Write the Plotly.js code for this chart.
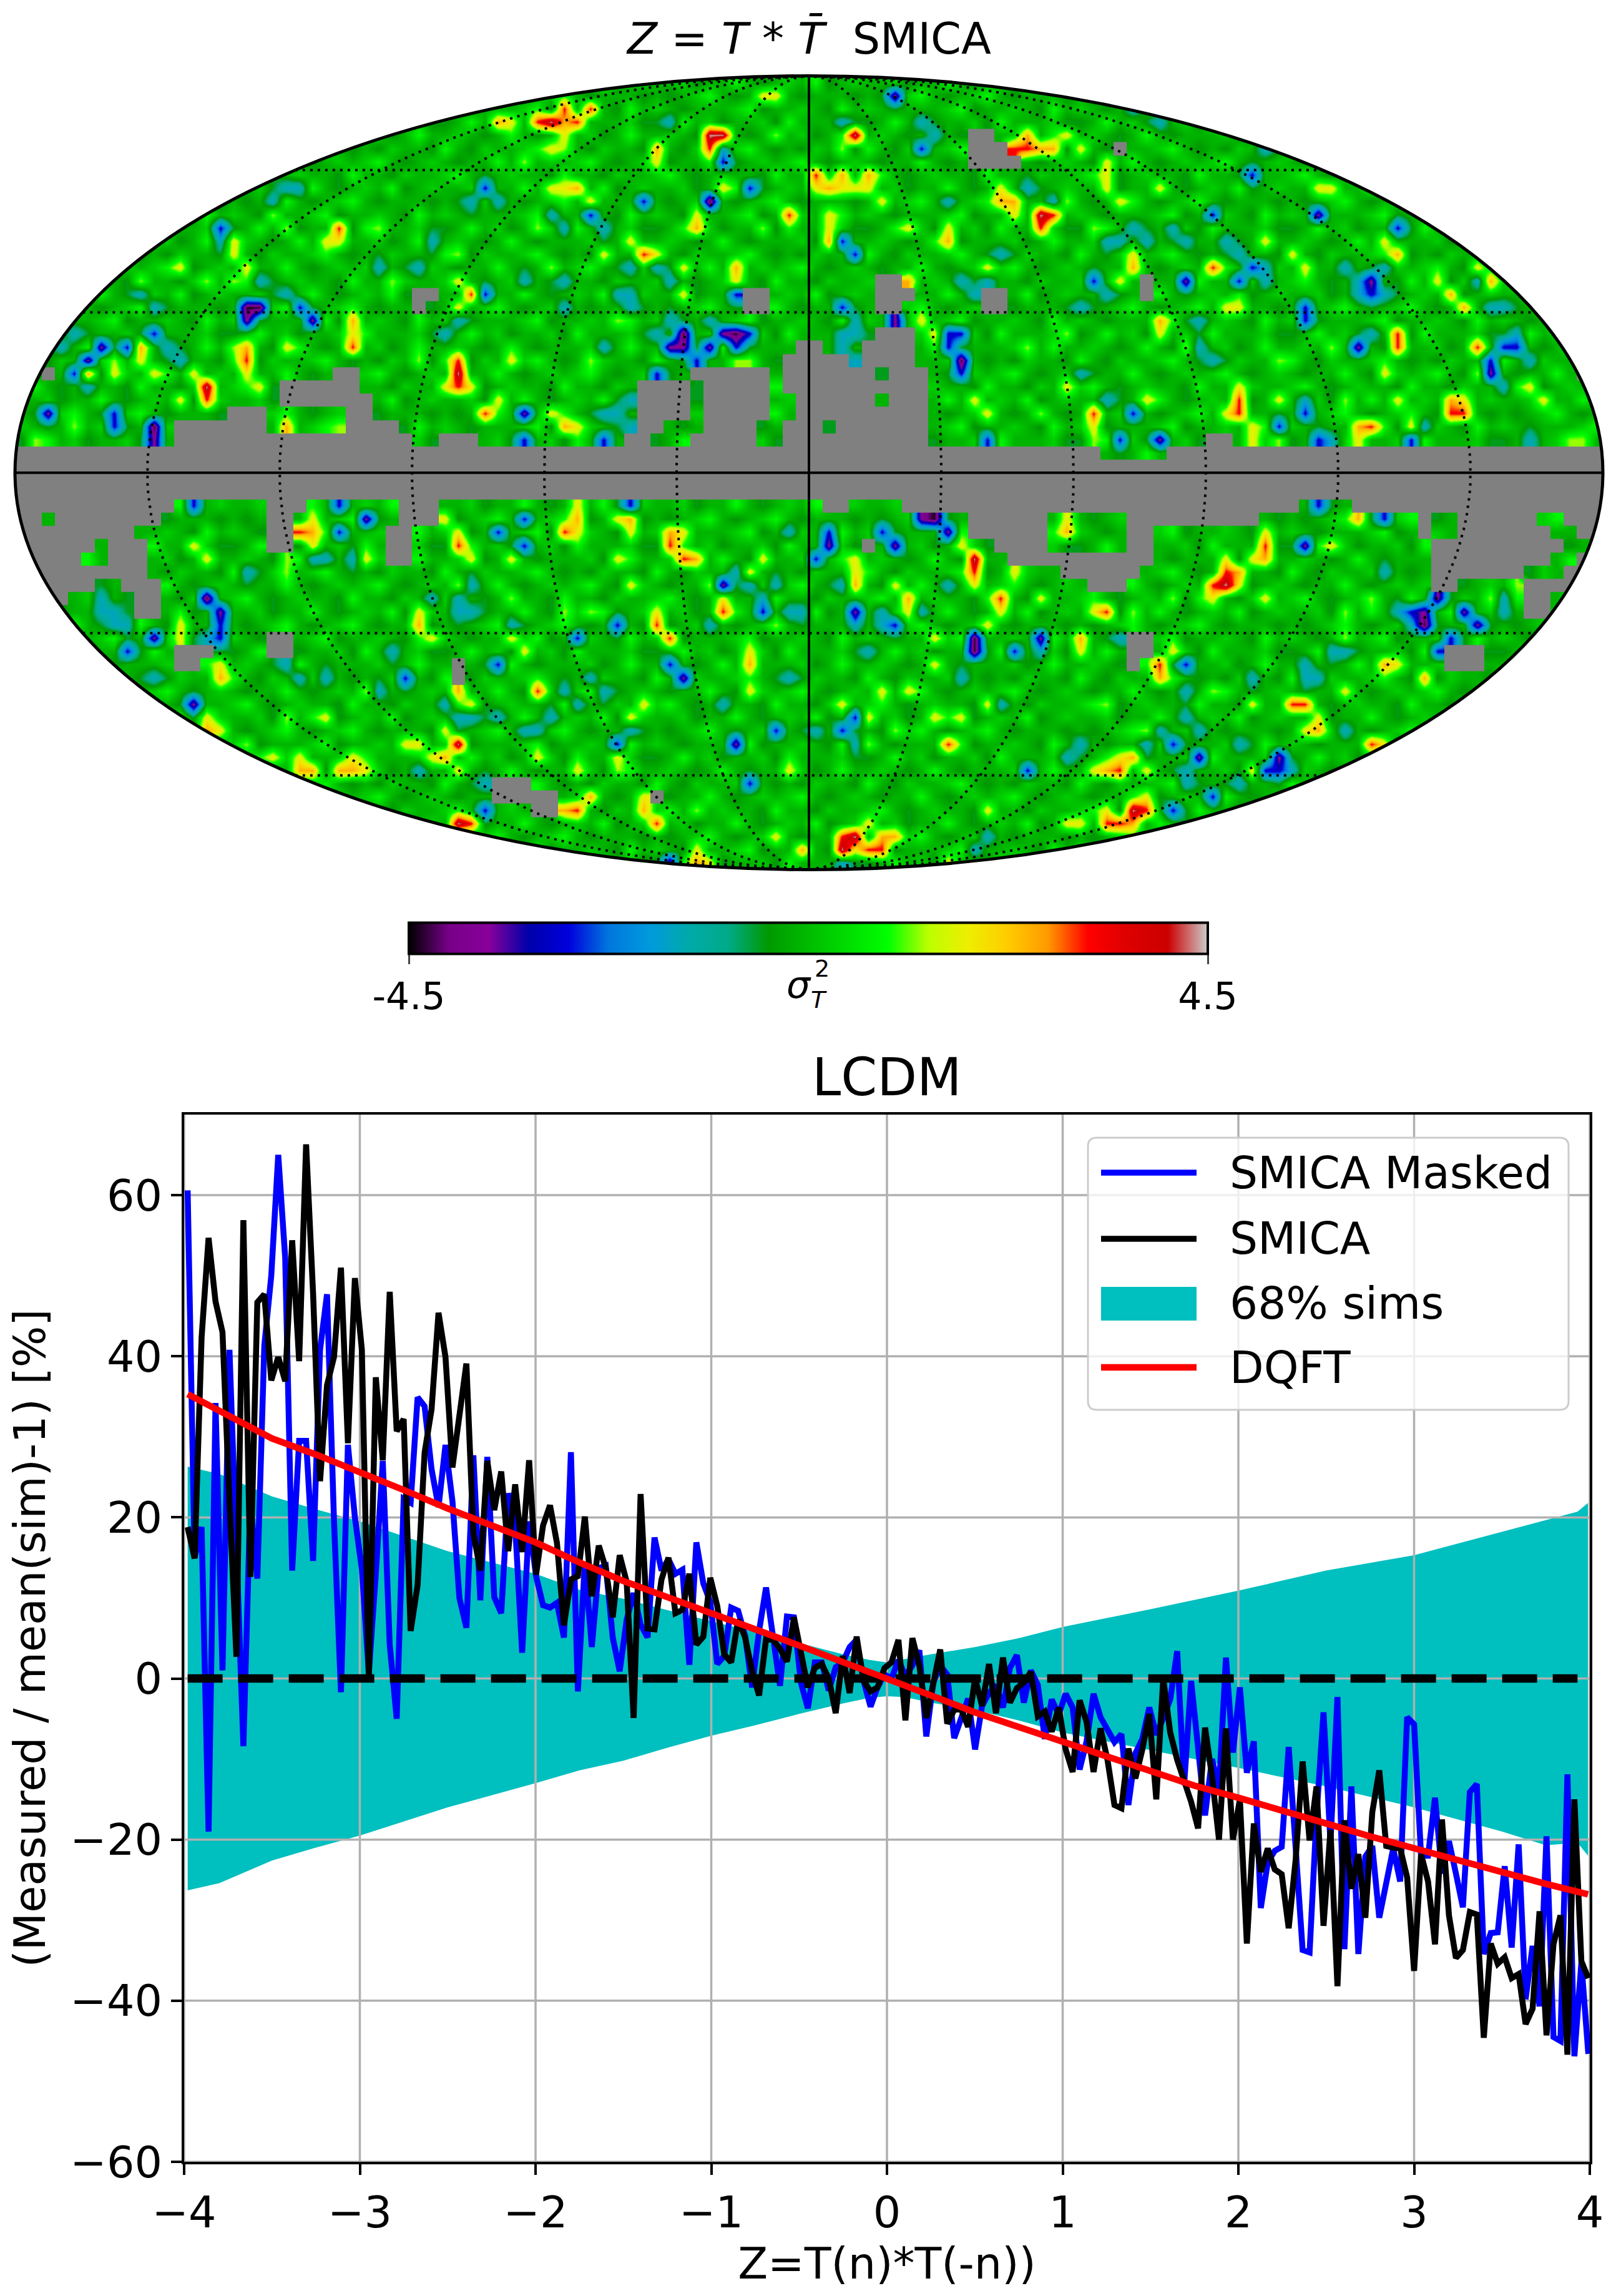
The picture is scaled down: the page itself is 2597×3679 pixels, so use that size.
<!DOCTYPE html>
<html>
<head>
<meta charset="utf-8">
<script src="https://cdn.plot.ly/plotly-3.0.1.min.js"></script>
<style>body { margin: 0; background: #fff; }</style>
</head>
<body>
<div id="chart"></div>
<script>
// ---- line panel values (bins -3.98 .. 3.99)
const smica = [18.8,14.9,42.3,54.7,46.8,43,22,2.7,56.9,12.6,46.7,47.7,37,39.9,36.9,54.4,39.4,66.3,47.8,24.5,36.4,39.9,51,29.2,49.7,40.8,0,37.4,27.1,48,30.7,32.2,5.9,11.6,28,33.4,45.4,39.9,26.2,33.4,39.1,18,13.4,27,20.9,25.7,15.8,24.1,15.7,27.1,
  12.9,19,21.5,16.8,6.6,12.3,12.7,20.1,10.2,16.5,13.7,7.6,15.3,12,-4.9,22.9,6.2,6.1,12.3,15,8.1,8.5,13,4.2,5.2,12.5,9,3,2,7.3,5.1,.9,-2.1,4.9,4.8,3.7,2.1,7.6,2.8,-1.1,1.3,1.8,0,-4.3,2.8,-1.8,5.2,-.3,-1.6,-1.1,
  1.3,2,4.8,-5.2,5,1.6,-4.9,-.8,3.6,-5.6,-3.9,-3.8,-6,0,-3.4,1.8,-4.3,2.6,-3,-1.2,-.5,.8,-4.7,-4.1,-6.6,-3.6,-8.8,-11.6,-2.7,-5.4,-11.6,-6.2,-10.1,-15.7,-16.1,-8.7,-12.4,-8.8,-4.4,-15,0,-6.7,-10.1,-12.7,-15.3,-18.6,-6.1,-12.2,-20,-6.2,
  -20,-15,-32.9,-18,-24,-21.1,-23.7,-24.3,-31,-22.5,-10.3,-20.1,-13.4,-30.7,-18.8,-38.2,-17.6,-26.1,-21.8,-29.7,-16.6,-11.4,-20.8,-21,-21.1,-24.7,-36.3,-21.8,-25.2,-33,-17.5,-29.4,-34.7,-33.7,-29,-29.3,-44.6,-32.9,-35.4,-34.6,-37.2,-36.7,-42.9,-41,-28.9,-44.3,-33,-29.4,-46.7,-15,-35.1,-37.2]
const smicaMasked = [60.6,15,18.8,-19,34.2,1,40.8,17,-8.4,22,12.4,41.3,50,65,52.2,13.4,29.5,29.5,14.6,40.8,47.7,19.6,-1.7,29,20,13.6,.7,13,27,4.2,-5,22.3,21.8,34.9,33.8,26,21.3,29,22,10,6.3,27.7,9.7,27.5,10.1,8.1,23,19,3.2,19.5,
  12.7,9.1,8.8,9.4,5.1,28.1,-1.6,14.5,3.9,13.7,14,5.1,.9,7.3,10.6,6.7,5.1,17.5,13.4,14.8,13,13.5,1.7,16.9,11.8,9.5,1.8,2.8,8.8,8.4,5.3,-1.1,5.9,11.3,5.6,-.9,7.7,7.6,-.5,-3.7,2,2,-1.5,1.4,2,3.9,4.8,-.3,-3.5,-1.1,
  .5,0,2.3,.3,1.6,3.5,-7.2,-.5,1.6,.5,-7.4,-5.2,-2.5,-8.8,-3.4,-1.8,-.8,-3.6,1.3,2.9,-3,1,-.8,-7.5,-2.6,-4.5,-1.9,-3.6,-11.3,-7.8,-1.9,-4.8,-6.5,-7.9,-6.9,-15.7,-9.3,-7.5,-3.6,-7,-4.9,-2.6,3.4,-13.2,-.3,-9.6,-17,-10,-13.7,2.6,
  -9.2,-1.1,-11.7,-7.8,-28.5,-22.8,-21.4,-20.9,-8.5,-21,-33.7,-34,-17,-4.2,-20.4,-2.3,-33.6,-13.4,-34.2,-22.1,-20.8,-29.7,-25.2,-21.1,-25.2,-4.8,-5.7,-22,-22,-14.8,-24.2,-20.2,-24.2,-28.4,-14.1,-13.1,-34.2,-31.6,-31.5,-23.3,-33.4,-20.6,-39.8,-33.2,-40.7,-19.6,-44.5,-45,-11.9,-46.9,-35.3,-46.6]
const zBins = smica.map((_, i) => -3.98 + i * 0.03966)

const dqftX = [-3.98,-3.75,-3.5,-3.25,-3,-2.75,-2.5,-2.25,-2,-1.75,-1.5,-1.25,-1,-.75,-.5,-.25,0,.25,.5,.75,1,1.25,1.5,1.75,2,2.25,2.5,2.75,3,3.25,3.5,3.75,3.99]
const dqft = [35.3,32.7,29.8,27.8,25.7,23.4,21.1,19,16.9,14.4,12.1,10.1,8.2,6.1,4.1,2.1,.1,-2.1,-4.2,-6,-7.8,-9.8,-11.6,-13.3,-14.8,-16.5,-18,-19.6,-21.1,-22.6,-24,-25.5,-26.8]

const bandX = [-3.98,-3.8,-3.5,-3.25,-3,-2.5,-2,-1.75,-1.5,-1.25,-1,-.75,-.5,-.25,-.1,0,.1,.25,.5,.75,1,1.5,2,2.5,3,3.5,3.75,3.93,3.99]
const bandUp = [26.3,25.4,22.6,21,19.5,15.8,13,11,9.9,8.5,7.1,5.8,4.4,3,2.3,2,2.4,3,3.9,5,6.4,8.6,10.9,13.4,15.3,18.2,19.6,20.7,21.8]
const bandLow = [-26.3,-25.4,-22.6,-21,-19.5,-16,-13,-11.4,-10.2,-8.6,-7.1,-5.8,-4.4,-3.1,-2.4,-2.2,-2.3,-3,-3.9,-5.2,-6.7,-8.9,-11.1,-13.4,-16,-19,-20.7,-20.4,-22]

const xTicks = [-4,-3,-2,-1,0,1,2,3,4]
const yTicks = [-60,-40,-20,0,20,40,60]
const legendNames = ['SMICA Masked', 'SMICA', '68% sims', 'DQFT']

// ---- sky map, 120 x 60 cells, [column, row] of the spots seen in each colour band
const greenTile = [
  'ggmdgglgdgmgldgm',
  'gdgmlgdgmlgdgggd',
  'mgdgggmldggmgdlg',
  'dglgmdggmdlgggmd',
  'gmgdglgdgggmdglg',
  'lgdmggmlgdgdmggd',
  'gdgglgdgmgmlgdgm',
  'mlgdgmggdlggdmgg'
]
const spotsLime = [[19,10],[20,11],[27,11],[38,6],[41,5],[39,11],[33,13],[28,15],[40,14],[56,11],[57,4],[30,21],[45,18],[43,21],[48,26],[24,26],[16,15],[9,15],[14,15],[7,21],[4,26],[1,27],[16,20],[54,21],[55,21],
  [62,5],[61,11],[67,11],[81,11],[79,9],[99,20],[95,21],[79,19],[76,20],[110,22],[117,27],[118,27],[81,27],[77,25],[95,27],[100,24],[88,20],
  [43,40],[37,39],[33,38],[52,38],[57,41],[26,46],[20,36],[20,37],[41,40],[45,52],[51,55],[17,50],[20,48],
  [87,39],[100,40],[102,39],[100,42],[84,40],[66,49],[64,50],[82,47],[90,46],[85,49],[111,39],[113,38]]
const spotsTeal = [[49,3],[19,9],[20,8],[21,8],[36,9],[34,9],[40,10],[41,11],[44,11],[53,5],[27,14],[3,20],[4,19],[5,23],[12,21],[11,20],[18,15],[33,18],[41,17],[44,20],[48,19],[49,18],[46,24],[46,26],[30,14],[31,12],[38,15],[45,16],[46,16],[15,12],[20,16],
  [46,14],[48,14],[49,15],[46,17],[52,18],[41,15],[31,16],[32,19],[45,25],[44,25],[9,16],[10,17],
  [62,3],[68,3],[69,4],[84,2],[86,3],[94,5],[76,8],[78,9],[83,12],[84,11],[88,12],[87,11],[92,13],[94,15],[100,14],[101,16],[103,14],[110,15],[111,17],[112,17],[80,17],[82,16],[89,18],[102,19],[114,21],[112,23],[99,27],[82,24],[80,22],[63,18],[63,19],[72,16],[71,15],[74,13],
  [70,9],[85,12],[82,12],[91,12],[94,14],[101,15],[103,16],[113,19],[89,20],[90,21],[62,19],[62,20],[63,21],[73,15],[97,24],[106,26],[114,27],
  [17,37],[25,36],[34,38],[33,40],[37,41],[31,39],[14,42],[6,39],[7,40],[8,41],[10,45],[27,46],[23,45],[36,48],[39,49],[40,48],[41,46],[42,47],[44,46],[46,49],[53,47],[55,38],[56,39],[58,40],[52,41],[32,47],[33,48],[30,52],[35,53],[58,45],[60,49],[63,50],
  [6,40],[7,41],[34,48],[38,49],[43,45],[54,37],[58,34],[57,38],[59,40],[33,39],[34,40],[23,36],[22,36],[28,43],[20,44],[21,45],
  [65,40],[72,37],[77,43],[74,47],[79,51],[80,50],[86,49],[88,46],[88,48],[85,50],[92,50],[92,53],[96,52],[98,45],[99,43],[100,46],[97,44],[104,40],[105,41],[112,39],[108,37],[83,42],[79,37],[71,45],[100,49],[88,53],[103,37],[73,57],[72,58],[62,59],
  [63,41],[65,41],[62,38],[64,43],[68,40],[70,38],[89,49],[93,45],[97,45],[100,43],[112,40],[88,52]]
const spotsBlue = [[35,8],[15,11],[47,9],[55,8],[53,6],[43,10],[21,17],[35,16],[54,16],[7,25],[7,26],[4,22],[8,20],[10,19],[44,27],[38,27],[48,22],[51,21],[54,20],[55,19],
  [68,5],[90,10],[93,7],[104,11],[62,17],[97,18],[97,17],[70,19],[71,19],[70,20],[71,22],[81,15],[93,14],[92,15],[102,16],[112,20],[113,20],[111,21],[97,25],[95,26],[98,27],[84,25],[83,27],[105,27],[73,27],[62,12],[63,13],
  [24,32],[13,32],[24,34],[38,33],[38,35],[36,34],[46,32],[49,44],[56,40],[45,41],[15,41],[15,42],[8,43],[42,42],[36,44],[29,45],[45,50],[57,49],[55,53],[35,55],[61,34],[60,36],[66,41],[65,34],[87,50],[76,52],[62,49],[63,48],[75,43],[88,44],[98,32],[103,33],[95,52],[94,52],[107,43],[105,40],[107,38],[108,42],[90,54],[87,55]]
const spotsPurple = [[17,18],[22,18],[50,20],[52,20],[53,19],[49,20],[5,21],[6,20],[2,25],[10,27],[38,25],[66,1],[98,10],[102,15],[66,18],[101,20],[111,22],[13,47],[26,33],[10,42],[53,38],[50,45],[54,50],[61,35],[66,35],[63,40],[97,35],[77,42],[107,39],[109,40],[110,41],[106,40],[95,51],[49,59],[86,27],[88,15],[89,51],[68,33],[70,34],[15,40]]
const spotsBlack = [[18,17],[17,17],[10,26],[54,19],[52,9],[14,39],[69,33],[72,42],[72,43],[71,21],[50,19],[106,41]]
const spotsYellow = [[40,5],[41,4],[37,3],[56,1],[57,1],[48,6],[41,8],[43,9],[40,8],[53,8],[23,12],[24,12],[16,13],[17,14],[16,12],[12,14],[44,13],[46,12],[48,13],[50,14],[54,15],[51,10],[33,15],[33,17],[50,16],[25,18],[17,20],[17,22],[18,23],[20,20],[25,19],[33,21],[34,23],[32,23],[37,21],[7,22],[10,22],[13,22],[12,24],[36,24],[40,25],[20,26],[42,26],[9,21],[58,10],
  [61,10],[62,8],[63,8],[64,8],[65,9],[60,8],[79,4],[80,5],[82,6],[74,8],[75,10],[82,8],[83,9],[82,7],[86,8],[98,8],[99,8],[94,12],[67,11],[70,11],[61,11],[73,14],[96,13],[97,14],[84,13],[83,15],[104,13],[103,12],[108,16],[107,15],[110,14],[91,17],[92,17],[68,18],[69,19],[86,19],[86,18],[103,22],[104,24],[114,23],[115,24],[72,24],[85,24],[92,23],[93,26],[91,25],[95,24],[81,26],[79,23],[101,27],[105,26],[108,25],[109,24],[73,25],[93,27],
  [22,33],[20,34],[22,35],[33,34],[34,36],[32,33],[42,32],[42,34],[45,33],[46,34],[50,34],[13,35],[14,36],[26,36],[37,36],[45,36],[46,38],[56,36],[55,37],[53,39],[48,40],[49,42],[12,41],[12,42],[30,40],[31,42],[37,42],[38,43],[55,43],[15,44],[33,45],[34,47],[47,47],[55,46],[14,48],[15,49],[23,48],[46,48],[32,49],[31,51],[33,52],[42,52],[39,51],[45,51],[58,52],[21,51],[25,51],[26,52],[19,51],[47,54],[48,56],[42,55],[57,57],[51,58],[52,59],[29,50],[30,50],
  [63,37],[63,36],[66,38],[67,40],[71,35],[72,38],[74,40],[75,37],[77,39],[73,41],[81,40],[83,38],[79,33],[91,36],[90,39],[92,38],[94,34],[93,36],[94,39],[99,35],[101,33],[69,42],[80,43],[69,44],[87,43],[104,44],[106,45],[65,46],[67,46],[62,47],[64,48],[71,48],[73,47],[69,48],[93,47],[100,46],[98,48],[97,49],[83,51],[81,52],[85,52],[93,52],[103,50],[80,56],[79,56],[82,55],[85,54],[73,55],[66,57],[63,58],[70,59],[64,56]]
const spotsOrange = [[36,3],[41,3],[48,5],[42,8],[51,11],[47,13],[54,14],[5,22],[9,20],[25,18],[17,20],[58,10],[20,26],[41,26],
  [61,8],[62,7],[64,7],[74,9],[75,9],[78,5],[76,4],[77,5],[70,12],[61,12],[84,14],[67,15],[86,18],[108,16],[111,15],[109,17],[101,26],[108,24],[81,25],[104,13],
  [21,34],[22,34],[42,33],[46,33],[49,34],[51,36],[53,40],[30,41],[15,45],[33,46],[55,44],[14,49],[21,52],[22,52],[24,52],[25,52],[32,51],[41,55],[43,54],[47,55],[51,59],[59,58],[63,38],[67,39],[92,37],[94,36],[79,34],[80,42],[86,45],[96,47],[103,44],[106,45],[98,49],[102,50],[83,52],[84,51],[82,52],[66,57],[65,57],[84,56],[101,33]]
const spotsRed = [[39,3],[41,2],[42,3],[43,2],[52,5],[24,11],[47,13],[58,10],[34,16],[25,20],[17,21],[33,21],[33,23],[35,25],[14,24],
  [60,7],[76,5],[75,5],[78,10],[77,11],[90,14],[104,19],[104,20],[110,20],[92,24],[92,25],[102,26],[81,25],[108,25],[109,25],
  [21,34],[33,35],[41,34],[49,35],[50,36],[48,41],[49,42],[53,40],[39,46],[33,50],[34,56],[42,55],[48,56],[74,39],[72,37],[82,40],[90,38],[91,37],[94,35],[86,44],[70,50],[96,47],[97,47],[102,50],[83,52],[83,56],[82,56],[85,55],[64,58],[65,58],[62,57]]
const spotsWhite = [[40,3],[52,4],[53,4],[14,23],[33,22],[63,4],[77,10],[33,50],[33,56],[72,36],[91,38],[84,55],[62,58],[63,57]]

// gray galactic mask: [row, [from, to, from, to ...]] in columns
const maskRows = [
  [4,[72,73]],[5,[72,74,83,83]],[6,[72,75]],
  [15,[65,66,85,85]],[16,[30,31,55,56,65,67,73,74,85,85]],[17,[30,30,55,56,65,66,73,74]],
  [19,[65,67]],[20,[59,60,64,67]],[21,[58,62,64,67]],[22,[2,2,24,25,51,56,58,64,66,68,118,118]],
  [23,[20,25,47,50,52,56,58,68]],[24,[20,26,47,50,52,56,59,64,66,68]],[25,[16,18,25,26,47,50,52,56,59,68]],
  [26,[12,18,25,28,47,48,52,55,58,60,62,68]],[27,[12,29,32,34,46,47,51,55,58,68,90,91]],
  [28,[0,81,87,119]],[29,[0,119]],[30,[0,119]],[31,[0,119]],
  [32,[0,11,19,21,29,31,61,62,67,96,101,119]],[33,[0,1,3,10,19,20,29,31,72,77,84,93,106,106,109,114,117,119]],
  [34,[0,8,19,20,28,29,72,77,84,85,106,106,109,115,118,119]],[35,[0,5,7,9,19,20,28,29,64,64,74,77,84,85,107,116,119,119]],
  [36,[0,4,7,9,28,29,75,85,107,115,118,119]],[37,[0,9,79,84,107,113,117,119]],[38,[0,5,8,10,81,83,107,108,114,119]],
  [39,[0,3,9,10,114,115]],[40,[9,10,114,115]],[42,[19,20,84,85]],[43,[12,14,19,20,84,85,108,110]],[44,[12,13,33,33,84,84,108,110]],
  [45,[33,33]],[53,[36,38]],[54,[36,40,48,48]],[55,[39,40]]
]

// colour bands as fraction of the colour scale
const greenLevels = {d: .44, g: .49, m: .53, l: .59}
const spotLevels = [[spotsLime,.64],[spotsTeal,.33],[spotsBlue,.18],[spotsPurple,.08],[spotsBlack,.01],[spotsYellow,.7],[spotsOrange,.78],[spotsRed,.86],[spotsWhite,.99]]
const nipySpectral = [[0,'#000000'],[.05,'#770088'],[.1,'#880099'],[.15,'#0000aa'],[.2,'#0000dd'],[.25,'#0077dd'],[.3,'#0099dd'],[.35,'#00aaaa'],[.4,'#00aa88'],[.45,'#009900'],[.5,'#00bb00'],[.55,'#00dd00'],[.6,'#00ff00'],[.65,'#bbff00'],[.7,'#eeee00'],[.75,'#ffcc00'],[.8,'#ff9900'],[.85,'#ff0000'],[.9,'#dd0000'],[.95,'#cc0000'],[1,'#cccccc']]

const W = 2597, H = 3679
const COLS = 120, ROWS = 60

function buildSkyGrid() {
    const grid = []
    for (let r = 0; r < ROWS; r++) {
        const row = []
        for (let c = 0; c < COLS; c++) {
            const ch = greenTile[r % greenTile.length][c % greenTile[0].length]
            row.push(-4.5 + 9 * greenLevels[ch])
        }
        grid.push(row)
    }
    spotLevels.forEach(([spots, level]) => {
        spots.forEach(([c, r]) => { grid[r][c] = -4.5 + 9 * level })
    })
    maskRows.forEach(([r, runs]) => {
        for (let i = 0; i < runs.length; i += 2) {
            for (let c = runs[i]; c <= runs[i + 1]; c++) grid[r][c] = null
        }
    })
    return grid
}

// mollweide position of lon/lat in degrees, x in [-2,2], y in [-1,1]
function mollweide(lon, lat) {
    const phi = lat * Math.PI / 180
    let th = phi
    for (let i = 0; i < 30; i++) {
        th -= (2 * th + Math.sin(2 * th) - Math.PI * Math.sin(phi)) / (2 + 2 * Math.cos(2 * th))
    }
    if (Math.abs(lat) === 90) th = phi
    return [2 * (lon / 180) * Math.cos(th), Math.sin(th)]
}

function graticule(meridians, parallels) {
    const xs = [], ys = []
    meridians.forEach(lon => {
        for (let lat = -90; lat <= 90; lat += 2) {
            const p = mollweide(lon, lat)
            xs.push(p[0]); ys.push(p[1])
        }
        xs.push(null); ys.push(null)
    })
    parallels.forEach(lat => {
        for (let lon = -180; lon <= 180; lon += 5) {
            const p = mollweide(lon, lat)
            xs.push(p[0]); ys.push(p[1])
        }
        xs.push(null); ys.push(null)
    })
    return {xs, ys}
}

function outsideEllipsePath() {
    let path = 'M-2.02,-1.02 L2.02,-1.02 L2.02,1.02 L-2.02,1.02 Z M2,0'
    for (let a = 2; a < 360; a += 2) {
        const t = a * Math.PI / 180
        path += ` L${2 * Math.cos(t)},${Math.sin(t)}`
    }
    return path + ' Z'
}

function gridLines() {
    const xs = [], ys = []
    xTicks.forEach(t => { xs.push(t, t, null); ys.push(-60, 70, null) })
    yTicks.forEach(t => { xs.push(-4, 4, null); ys.push(t, t, null) })
    return {xs, ys}
}

// pixel position to paper fractions
const px = x => x / W
const py = y => 1 - y / H

function legendBox(x0, y0, x1, y1, r) {
    const X = px, Y = py
    return `M${X(x0 + r)},${Y(y0)} L${X(x1 - r)},${Y(y0)} Q${X(x1)},${Y(y0)} ${X(x1)},${Y(y0 + r)} ` +
        `L${X(x1)},${Y(y1 - r)} Q${X(x1)},${Y(y1)} ${X(x1 - r)},${Y(y1)} L${X(x0 + r)},${Y(y1)} ` +
        `Q${X(x0)},${Y(y1)} ${X(x0)},${Y(y1 - r)} L${X(x0)},${Y(y0 + r)} Q${X(x0)},${Y(y0)} ${X(x0 + r)},${Y(y0)} Z`
}

const FONT = '"DejaVu Sans", sans-serif'
const BLUE = '#0000ff', BLACK = '#000000', TEAL = '#00bfbf', RED = '#ff0000'
const dotted = graticule([-150,-120,-90,-60,-30,30,60,90,120,150], [-60,-30,30,60])
const solid = graticule([0], [0])
const grid2 = gridLines()

const cellX = Array.from({length: COLS}, (_, c) => (c + .5) / COLS * 4 - 2)
const cellY = Array.from({length: ROWS}, (_, r) => 1 - (r + .5) / ROWS * 2)

const traces = [
    {
        type: 'heatmap', x: cellX, y: cellY, z: buildSkyGrid(), xaxis: 'x', yaxis: 'y',
        zmin: -4.5, zmax: 4.5, zsmooth: 'best', colorscale: nipySpectral, hoverinfo: 'skip',
        colorbar: {
            orientation: 'h', lenmode: 'pixels', len: 1280, thicknessmode: 'pixels', thickness: 50,
            x: px(1295), xanchor: 'center', y: py(1556), yanchor: 'middle', xpad: 0, ypad: 0,
            tickmode: 'array', tickvals: [-4.5, 4.5], ticktext: ['-4.5', '4.5'], ticks: 'outside', ticklen: 15, tickwidth: 3,
            tickfont: {size: 60, family: FONT, color: '#000'}, outlinewidth: 4, outlinecolor: '#000'
        }
    },
    {x: dotted.xs, y: dotted.ys, xaxis: 'x', yaxis: 'y', mode: 'lines', line: {color: '#000', width: 4, dash: '4px,8px'}, hoverinfo: 'skip'},
    {x: solid.xs, y: solid.ys, xaxis: 'x', yaxis: 'y', mode: 'lines', line: {color: '#000', width: 4}, hoverinfo: 'skip'},

    {x: bandX, y: bandUp, xaxis: 'x2', yaxis: 'y2', mode: 'lines', line: {width: 0}, hoverinfo: 'skip'},
    {x: bandX, y: bandLow, xaxis: 'x2', yaxis: 'y2', mode: 'lines', line: {width: 0}, fill: 'tonexty', fillcolor: TEAL, name: legendNames[2], hoverinfo: 'skip'},
    {x: grid2.xs, y: grid2.ys, xaxis: 'x2', yaxis: 'y2', mode: 'lines', line: {color: '#b0b0b0', width: 3.5}, hoverinfo: 'skip'},
    {x: zBins, y: smicaMasked, xaxis: 'x2', yaxis: 'y2', mode: 'lines', name: legendNames[0], line: {color: BLUE, width: 9.5}},
    {x: zBins, y: smica, xaxis: 'x2', yaxis: 'y2', mode: 'lines', name: legendNames[1], line: {color: BLACK, width: 9.5}},
    {x: [-3.98, 3.93], y: [0, 0], xaxis: 'x2', yaxis: 'y2', mode: 'lines', line: {color: BLACK, width: 13.5, dash: '56px,25px'}, hoverinfo: 'skip'},
    {x: dqftX, y: dqft, xaxis: 'x2', yaxis: 'y2', mode: 'lines', name: legendNames[3], line: {color: RED, width: 10.5}}
]

const legendRowsY = [1879, 1985, 2088, 2191]
const legendShapes = [
    {type: 'path', xref: 'paper', yref: 'paper', path: legendBox(1743, 1823, 2513, 2259, 14), fillcolor: 'rgba(255,255,255,0.8)', line: {color: '#cccccc', width: 3}, layer: 'above'},
    {type: 'line', xref: 'paper', yref: 'paper', x0: px(1764), x1: px(1917), y0: py(legendRowsY[0]), y1: py(legendRowsY[0]), line: {color: BLUE, width: 9.5}, layer: 'above'},
    {type: 'line', xref: 'paper', yref: 'paper', x0: px(1764), x1: px(1917), y0: py(legendRowsY[1]), y1: py(legendRowsY[1]), line: {color: BLACK, width: 9.5}, layer: 'above'},
    {type: 'rect', xref: 'paper', yref: 'paper', x0: px(1764), x1: px(1917), y0: py(2062), y1: py(2116), fillcolor: TEAL, line: {width: 0}, layer: 'above'},
    {type: 'line', xref: 'paper', yref: 'paper', x0: px(1764), x1: px(1917), y0: py(legendRowsY[3]), y1: py(legendRowsY[3]), line: {color: RED, width: 10.5}, layer: 'above'}
]
const legendTexts = legendNames.map((name, i) => ({
    xref: 'paper', yref: 'paper', x: px(1968), y: py(legendRowsY[i]), xanchor: 'left', yanchor: 'middle', showarrow: false, text: name, font: {size: 71, family: FONT}
}))

const layout = {
    width: W, height: H,
    margin: {l: 0, r: 0, t: 0, b: 0, autoexpand: false},
    paper_bgcolor: '#fff', plot_bgcolor: 'rgba(0,0,0,0)',
    font: {family: FONT, color: '#000'},
    showlegend: false,
    xaxis: {domain: [px(1296 - 636 * 2.02), px(1296 + 636 * 2.02)], range: [-2.02, 2.02], visible: false, fixedrange: true},
    yaxis: {domain: [py(757.5 + 636 * 1.02), py(757.5 - 636 * 1.02)], range: [-1.02, 1.02], visible: false, fixedrange: true},
    xaxis2: {
        domain: [px(295), px(2547)], range: [-4, 4], anchor: 'y2', tickvals: xTicks, ticks: 'outside', ticklen: 17, tickwidth: 4, tickcolor: '#000',
        showline: true, mirror: true, linewidth: 4, linecolor: '#000', showgrid: false, zeroline: false,
        tickfont: {size: 70, family: FONT},
        title: {text: 'Z=T(n)*T(-n))', font: {size: 70, family: FONT}, standoff: 8}
    },
    yaxis2: {
        domain: [py(3464), py(1786)], range: [-60, 70], anchor: 'x2', tickvals: yTicks, ticks: 'outside', ticklen: 17, tickwidth: 4, tickcolor: '#000',
        showline: true, mirror: true, linewidth: 4, linecolor: '#000', showgrid: false, zeroline: false,
        tickfont: {size: 70, family: FONT},
        title: {text: '(Measured / mean(sim)-1) [%]', font: {size: 70, family: FONT}, standoff: 18}
    },
    shapes: [
        {type: 'circle', xref: 'x', yref: 'y', x0: -2, x1: 2, y0: -1, y1: 1, fillcolor: '#808080', line: {width: 0}, layer: 'below'},
        {type: 'path', xref: 'x', yref: 'y', path: outsideEllipsePath(), fillcolor: '#fff', fillrule: 'evenodd', line: {width: 0}, layer: 'above'},
        {type: 'circle', xref: 'x', yref: 'y', x0: -2, x1: 2, y0: -1, y1: 1, fillcolor: 'rgba(0,0,0,0)', line: {width: 5, color: '#000'}, layer: 'above'},
        ...legendShapes
    ],
    annotations: [
        {xref: 'paper', yref: 'paper', x: px(1295), y: py(62), showarrow: false, yanchor: 'middle', text: '<i>Z = T * T\u0304</i>\u00a0\u00a0SMICA', font: {size: 70, family: FONT}},
        {xref: 'paper', yref: 'paper', x: px(1421), y: py(1726), showarrow: false, yanchor: 'middle', text: 'LCDM', font: {size: 83, family: FONT}},
        {xref: 'paper', yref: 'paper', x: px(1280), y: py(1578), showarrow: false, yanchor: 'middle', text: '<i>\u03c3</i>', font: {size: 60, family: FONT}},
        {xref: 'paper', yref: 'paper', x: px(1317), y: py(1552), showarrow: false, yanchor: 'middle', text: '2', font: {size: 38, family: FONT}},
        {xref: 'paper', yref: 'paper', x: px(1312), y: py(1602), showarrow: false, yanchor: 'middle', text: '<i>T</i>', font: {size: 38, family: FONT}},
        ...legendTexts
    ]
}

Plotly.newPlot('chart', traces, layout, {displayModeBar: false, staticPlot: true})
</script>
</body>
</html>
